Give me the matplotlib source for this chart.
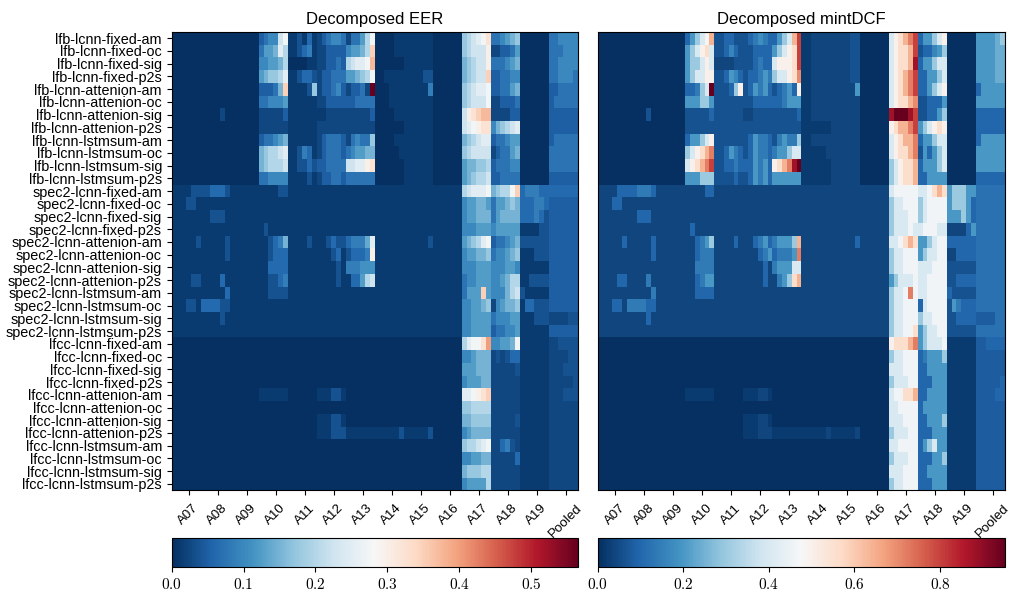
import numpy as np
import matplotlib
matplotlib.use("Agg")
from matplotlib import pyplot as plt
from matplotlib.ticker import FuncFormatter

plt.rcParams['font.family'] = ['Liberation Sans', 'DejaVu Sans']
plt.rcParams['mathtext.fontset'] = 'cm'

attacks = ['A07', 'A08', 'A09', 'A10', 'A11', 'A12', 'A13', 'A14', 'A15', 'A16',
           'A17', 'A18', 'A19', 'Pooled']
n_sub = 6  # sub-columns per attack

models = []
for front in ['lfb', 'spec2', 'lfcc']:
    for back in ['fixed', 'attenion', 'lstmsum']:
        for loss in ['am', 'oc', 'sig', 'p2s']:
            models.append(f'{front}-lcnn-{back}-{loss}')

# cell levels, one char per sub-column
# EER: level * 0.0125, mintDCF: level * 0.02
levels = "0123456789abcdefghijklmnopqrstuvwxyzABCDEFGHIJKLMNOPQRSTUVWXYZ"

eer_rows = [
    "000000 000000 000000 4688im 113151 246886 266agm 000011 111111 000000 egikmq 668ace 000000 668888",
    "000000 000000 000000 6aackg 113571 224444 8aacgs 000011 111111 000000 egiiio 22446a 000000 666888",
    "000000 000000 000000 88aacg 000011 224464 gikkmu 000000 111111 000000 cegiio 6668ac 000000 668888",
    "000000 000000 000000 aceegk 113553 244666 aacegm 001111 111133 000000 cegiis 446688 000000 668886",
    "000000 000000 000000 4446cs 11113e 244684 24462K 000111 111117 000000 egikkm 4466ac 000000 446666",
    "000000 000000 000000 66888a 111111 224444 446666 000111 111111 000000 egiiim 224446 000000 466666",
    "000000 000020 000000 222224 111111 112222 222224 000011 111111 000000 ioqsuu 222244 000000 444444",
    "000000 000000 000000 222222 111111 222222 222222 000000 111111 000000 ikmoqq 8cegik 000000 444444",
    "000000 000000 000000 4668ac 111111 246664 26866e 000011 111111 000000 cegikk 4668aa 000000 466666",
    "000000 000000 000000 ceggik 113751 246664 68aacc 000001 111111 000000 egiiii 2466ac 000000 666666",
    "000000 000000 000000 cegggi 113353 446666 iikkoq 000000 111111 000000 acceeg 466688 000000 666666",
    "000000 000000 000000 668888 111131 244664 666666 000000 111111 000000 aceggi 446666 000000 444444",
    "111133 335553 111111 111133 111111 111111 111111 111111 111111 111111 gikkkm ceggms 577755 555555",
    "111331 111111 111111 111111 111111 111111 111111 111111 111111 111111 8aacca 6aacec 555775 444444",
    "111111 113331 111111 111111 111111 111111 111111 111111 111111 111111 8aaccc 6acccc 555753 444444",
    "111111 111111 111111 131111 111111 111111 111111 111111 111111 111111 888aaa 8aaaaa 111133 444444",
    "111113 111113 111111 11357c 111131 113533 5777bk 111111 111113 111111 acegkm 4668ac 333333 444444",
    "111111 111113 111111 113555 111111 111351 35557o 111111 111111 111111 8aacce 688ace 111333 444444",
    "111111 111111 111111 115555 111111 111131 777999 111111 111111 111111 888aaa 888aa8 111111 444444",
    "111133 111151 111111 113357 111111 111131 155agi 111111 111111 111111 688aaa 88acgg 113333 444444",
    "111111 111115 111111 113333 111111 111111 111111 111111 111111 111111 6aaasa 888cgi 311111 444444",
    "111331 555533 111111 111111 111111 111111 111111 111111 111111 111111 88aace 28acce 155333 444444",
    "111111 111131 111111 111111 111111 111111 111111 111111 111111 111111 88aaaa 6888aa 111333 222233",
    "111111 111111 111111 111111 111111 111111 111111 111111 111111 111111 88aaaa 46688a 111111 444444",
    "000000 000000 000000 000000 000000 000000 000000 000000 000000 000000 gkmmqw 88aacm 111111 223333",
    "000000 000000 000000 000000 000000 000000 000000 000000 000000 000000 88accc 232355 111111 222233",
    "000000 000000 000000 000000 000000 000000 000000 000000 000000 000000 aaaccc 222223 111111 222333",
    "000000 000000 000000 000000 000000 000000 000000 000000 000000 000000 8aaacc 222222 111111 222223",
    "000000 000000 000000 111111 000000 111331 000000 000000 000000 000000 kkmoqs 222222 111111 222333",
    "000000 000000 000000 000000 000000 000000 000000 000000 000000 000000 eegggg 222222 111111 222222",
    "000000 000000 000000 000000 000000 111331 000000 000000 000000 000000 cceeee 222223 111111 222222",
    "000000 000000 000000 000000 000000 111333 111111 111113 111113 000000 8acccc 222222 111111 222222",
    "000000 000000 000000 000000 000000 000000 000000 000000 000000 000000 eggikm 225732 111111 222222",
    "000000 000000 000000 000000 000000 000000 000000 000000 000000 000000 88aacc 222225 111111 222222",
    "000000 000000 000000 000000 000000 000000 000000 000000 000000 000000 ceeegg 222222 111111 222222",
    "000000 000000 000000 000000 000000 000000 000000 000000 000000 000000 8aaaag 222222 111111 222222",
]

dcf_rows = [
    "000000 000000 000000 5afkow 335533 357975 5afkwE 112222 222233 000000 kpswAE 5aafkp 000000 aaaacf",
    "000000 000000 000000 afkpsk 335853 335555 afkpsE 112222 222233 000000 kpsswE 3558af 000000 aaaacc",
    "000000 000000 000000 affkpk 222233 335755 kpppsE 112222 222233 000000 kpsswI 5aafkk 000000 aaaacc",
    "000000 000000 000000 afkkpp 335a85 3557a7 fkkpsz 112222 222233 000000 kpswAE 55aafk 000000 aaaacc",
    "000000 000000 000000 557fkM 3335fp 35a7a5 357a5p 112222 22222a 000000 kpswAE 55afkp 000000 5aaaaa",
    "000000 000000 000000 aaaffa 333333 335555 557aaa 112222 222222 000000 kpsswz 33555a 000000 aaaaaa",
    "000000 000030 000000 333335 333333 223333 333335 112222 222222 000000 IMMMIE 3355af 000000 555555",
    "000000 000000 000000 333333 333333 333333 333333 111111 222222 000000 pswwAE afkpsp 000000 555555",
    "000000 000000 000000 5aafkp 333333 35a775 37a77f 112222 222222 000000 kpswwA 5aafkk 000000 5aaaaa",
    "000000 000000 000000 fkpswA 335a75 35a775 7aafkk 111112 222222 000000 kpsswA 3a5afk 000000 aaaaaa",
    "000000 000000 000000 kpswAE 335575 55a7a5 pswAIM 111111 222222 000000 fkpssw 5aaafk 000000 aaaaaa",
    "000000 000000 000000 aaafff 333353 35a7a5 aaaaaa 111111 222222 000000 fkpssw 55aaaa 000000 555555",
    "222255 557775 222222 222255 222222 222222 222222 222222 222222 222222 knnnnn kknsws afffaa 666666",
    "222552 222222 222222 222222 222222 222222 222222 222222 222222 222222 fkknnn fknnnn afffa5 666666",
    "222222 225552 222222 222222 222222 222222 222222 222222 222222 222222 fkkknn fknnnn aaafa5 666666",
    "222222 222222 222222 252222 222222 222222 222222 222222 222222 222222 fkkknk knnnkk 22225a 666666",
    "222225 222225 222222 2257af 222252 2257a5 7aaafw 222222 222225 222222 kknsws aafknn 555555 666666",
    "222222 222225 222222 225777 222222 22257a 5777aA 222222 222222 222222 fkknnn afkknn 225555 666666",
    "222222 222222 222222 227777 222222 222252 7aaakk 222222 222222 222222 fkknnn kkknnn 333333 666666",
    "222255 222272 222222 2257aa 222222 222252 27afsw 222222 222222 222222 afkkkn kknnnn 335555 666666",
    "222222 222227 222222 225555 222222 222222 222222 222222 222222 222222 fkknAn kknnnn 533333 666666",
    "222552 777755 222222 222222 222222 222222 222222 222222 222222 222222 fkknnn 5knnnn 3a7555 666666",
    "222222 222252 222222 222222 222222 222222 222222 222222 222222 222222 fkknnn fkknnn 335555 444466",
    "222222 222222 222222 222222 222222 222222 222222 222222 222222 222222 fkknns afkknn 333333 666666",
    "000000 000000 000000 000000 000000 000000 000000 000000 000000 000000 pssswA afkkkn 111111 445555",
    "000000 000000 000000 000000 000000 000000 000000 000000 000000 000000 fkknnn 57aaaf 111111 444444",
    "000000 000000 000000 000000 000000 000000 000000 000000 000000 000000 kkknnn 55aaaa 111111 444444",
    "000000 000000 000000 000000 000000 000000 000000 000000 000000 000000 fkkknn 555aaa 111111 444445",
    "000000 000000 000000 111111 000000 111221 000000 000000 000000 000000 knnssw 55aaaa 111111 444455",
    "000000 000000 000000 000000 000000 000000 000000 000000 000000 000000 kknnnn 5aaaaa 111111 444444",
    "000000 000000 000000 000000 000000 111221 000000 000000 000000 000000 kkknnn 55aaaf 111111 444444",
    "000000 000000 000000 000000 000000 111222 111111 111112 111112 000000 fkkknn 555aaa 111111 444444",
    "000000 000000 000000 000000 000000 000000 000000 000000 000000 000000 kknnnn 5afkaa 111111 444444",
    "000000 000000 000000 000000 000000 000000 000000 000000 000000 000000 fkkknn 555aaf 111111 444444",
    "000000 000000 000000 000000 000000 000000 000000 000000 000000 000000 kkknnn 55aaaa 111111 444444",
    "000000 000000 000000 000000 000000 000000 000000 000000 000000 000000 fkknnn 555aaa 111111 444444",
]

eer_step, eer_max = 0.0125, 0.565
dcf_step, dcf_max = 0.02, 0.952


def decode(rows, step):
    return np.array([[levels.index(c) * step for c in r.replace(' ', '')] for r in rows])


eer = decode(eer_rows, eer_step)
dcf = decode(dcf_rows, dcf_step)

fig = plt.figure(figsize=(10.1, 5.9), dpi=100)
ax1 = fig.add_axes([0.170, 0.169, 0.402, 0.777])
ax2 = fig.add_axes([0.592, 0.169, 0.403, 0.777])
cax1 = fig.add_axes([0.170, 0.039, 0.402, 0.049])
cax2 = fig.add_axes([0.592, 0.039, 0.403, 0.049])

cb_fmt = FuncFormatter(lambda v, p: f'${v:.1f}$')

for ax, cax, data, vmax, title, cticks in [
        (ax1, cax1, eer, eer_max, 'Decomposed EER', [0, 0.1, 0.2, 0.3, 0.4, 0.5]),
        (ax2, cax2, dcf, dcf_max, 'Decomposed mintDCF', [0, 0.2, 0.4, 0.6, 0.8])]:
    mesh = ax.pcolormesh(data, cmap='RdBu_r', vmin=0, vmax=vmax)
    ax.set_xlim(0, data.shape[1])
    ax.set_ylim(data.shape[0], 0)
    ax.set_xticks(np.arange(len(attacks)) * n_sub + 3.5)
    ax.set_xticklabels(attacks, rotation=45, ha='center', fontsize=9.6)
    ax.tick_params(axis='x', pad=5)
    ax.set_yticks(np.arange(len(models)) + 0.5)
    if ax is ax1:
        ax.set_yticklabels(models, fontsize=10.4)
    else:
        ax.set_yticklabels([])
        ax.tick_params(axis='y', length=0)
    ax.set_title(title, fontsize=12)
    cb = fig.colorbar(mesh, cax=cax, orientation='horizontal')
    cb.set_ticks(cticks)
    cb.ax.xaxis.set_major_formatter(cb_fmt)
    cb.ax.tick_params(labelsize=11)

plt.savefig('out.png', dpi=100)
